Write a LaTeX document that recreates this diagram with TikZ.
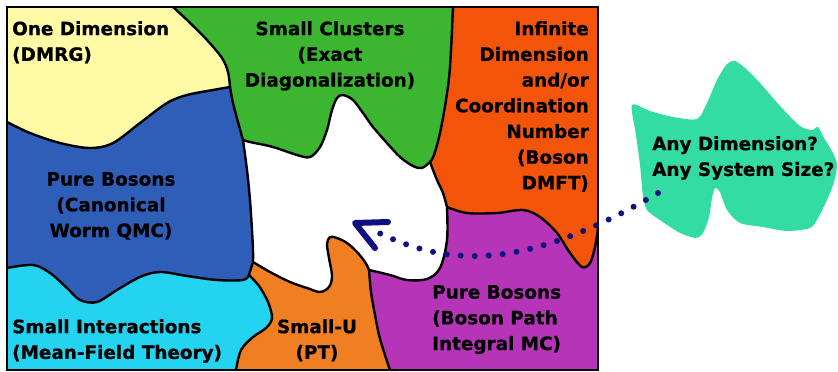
\documentclass[tikz,border=0pt]{standalone}
\usepackage{fontspec}
\setmainfont{DejaVu Sans}
\newfontfamily\lblfont{DejaVu Sans}[BoldFeatures={FakeBold=0.7}]
\definecolor{cyel}{HTML}{FFFAA5}
\definecolor{cgrn}{HTML}{3CB531}
\definecolor{cred}{HTML}{F2550A}
\definecolor{cblu}{HTML}{2E5EB7}
\definecolor{ccyn}{HTML}{23D3EF}
\definecolor{corg}{HTML}{F07F24}
\definecolor{cpur}{HTML}{B534B8}
\definecolor{ccld}{HTML}{33DCA3}
\definecolor{cnavy}{HTML}{101080}
\begin{document}
\begin{tikzpicture}[x=1pt,y=-1pt,
  sm/.style={smooth,tension=0.55},
  bnd/.style={line width=2.4pt,line join=round,line cap=round},
  lbl/.style={inner sep=0pt,font=\lblfont\fontsize{18.4}{25.7}\selectfont\bfseries},
  dots/.style={cnavy,line width=6pt,line cap=round,dash pattern=on 0pt off 14pt},
  arrowhd/.style={cnavy,line width=6pt,line cap=round,line join=round}]
\useasboundingbox (0,0) rectangle (838,372);
\fill[white] (0,0) rectangle (838,372);
% cloud
\fill[ccld] plot[smooth cycle,tension=0.45] coordinates {(632,105) (650,111) (673,117) (697,119) (707,103) (717,80) (727,64) (735,61) (745,68) (760,83) (780,106) (800,126) (812,130) (818,127) (824,138) (833,153) (837,165) (834,182) (827,200) (818,218) (810,228) (787,231) (763,227) (740,223) (727,210) (720,192) (715,188) (712,198) (709,217) (703,233) (696,238) (680,233) (660,220) (647,210) (643,196) (640,165) (636,135)};
% yellow
\fill[cyel] (7,7) -- plot[sm] coordinates {(173,7) (187,20) (207,40) (222,58) (228,72) (230,87)} -- plot[sm] coordinates {(230,87) (213,90) (187,95) (167,103) (140,123) (113,143) (90,148) (60,143) (30,133) (7,122)} -- cycle;
% green
\fill[cgrn] plot[sm] coordinates {(173,7) (187,20) (207,40) (222,58) (228,72) (230,87)} -- plot[sm] coordinates {(230,87) (233,103) (238,122) (243,140)} -- plot[sm] coordinates {(243,140) (250,142) (273,147) (297,155) (310,157) (320,147) (327,130) (332,110) (337,98) (343,95) (353,100) (363,113) (373,127) (387,143) (400,157) (413,166) (422,168) (430,162)} -- plot[sm] coordinates {(430,162) (434,155) (440,133) (446,100) (450,67) (453,7)} -- cycle;
% blue
\fill[cblu] plot[sm] coordinates {(7,122) (30,133) (60,143) (90,148) (113,143) (140,123) (167,103) (187,95) (213,90) (230,87)} -- plot[sm] coordinates {(230,87) (233,103) (238,122) (243,140)} -- plot[sm] coordinates {(243,140) (247,170) (250,200) (252,230) (253,250) (253,262)} -- (249,275) -- plot[sm] coordinates {(249,275) (243,280) (217,280) (187,276) (160,272) (140,277) (117,290) (97,302) (80,300) (67,288) (50,273) (33,265) (7,268)} -- cycle;
% cyan
\fill[ccyn] plot[sm] coordinates {(7,268) (33,265) (50,273) (67,288) (80,300) (97,302) (117,290) (140,277) (160,272) (187,276) (217,280) (243,280) (249,275)} -- plot[sm] coordinates {(249,275) (259,286) (268,302) (272,318) (266,328) (253,337) (241,350) (236,370)} -- (7,370) -- cycle;
% orange small-U
\fill[corg] (249,275) -- plot[sm] coordinates {(253,262) (270,272) (290,282) (307,288) (320,292) (329,287) (332,276) (329,258) (327,244) (330,237) (337,238) (347,243) (357,252) (365,262) (369,270)} -- plot[sm] coordinates {(369,270) (371,292) (375,315) (379,335) (384,352) (390,370)} -- plot[sm] coordinates {(236,370) (241,350) (253,337) (266,328) (272,318) (268,302) (259,286) (249,275)} -- cycle;
% purple
\fill[cpur] plot[sm] coordinates {(447,207) (467,213) (497,213) (523,210) (540,217) (557,233) (570,253) (582,267) (590,263) (595,247) (598,228)} -- (598,370) -- plot[sm] coordinates {(390,370) (384,352) (379,335) (375,315) (371,292) (369,270)} -- plot[sm] coordinates {(369,270) (390,275) (407,280) (427,279) (440,268) (447,240) (447,207)} -- cycle;
% orange-red
\fill[cred] (453,7) -- (598,7) -- plot[sm] coordinates {(598,228) (595,247) (590,263) (582,267) (570,253) (557,233) (540,217) (523,210) (497,213) (467,213) (447,207)} -- plot[sm] coordinates {(447,207) (443,193) (437,180) (430,162)} -- plot[sm] coordinates {(430,162) (434,155) (440,133) (446,100) (450,67) (453,7)} -- cycle;
% boundaries
\draw[bnd] plot[sm] coordinates {(173,7) (187,20) (207,40) (222,58) (228,72) (230,87)};
\draw[bnd] plot[sm] coordinates {(230,87) (233,103) (238,122) (243,140)};
\draw[bnd] plot[sm] coordinates {(230,87) (213,90) (187,95) (167,103) (140,123) (113,143) (90,148) (60,143) (30,133) (7,122)};
\draw[bnd] plot[sm] coordinates {(243,140) (250,142) (273,147) (297,155) (310,157) (320,147) (327,130) (332,110) (337,98) (343,95) (353,100) (363,113) (373,127) (387,143) (400,157) (413,166) (422,168) (430,162)};
\draw[bnd] plot[sm] coordinates {(430,162) (434,155) (440,133) (446,100) (450,67) (453,7)};
\draw[bnd] plot[sm] coordinates {(430,162) (437,180) (443,193) (447,207)};
\draw[bnd] plot[sm] coordinates {(447,207) (467,213) (497,213) (523,210) (540,217) (557,233) (570,253) (582,267) (590,263) (595,247) (598,228)};
\draw[bnd] plot[sm] coordinates {(447,207) (447,240) (440,268) (427,279) (407,280) (390,275) (369,270)};
\draw[bnd] plot[sm] coordinates {(253,262) (270,272) (290,282) (307,288) (320,292) (329,287) (332,276) (329,258) (327,244) (330,237) (337,238) (347,243) (357,252) (365,262) (369,270)};
\draw[bnd] plot[sm] coordinates {(369,270) (371,292) (375,315) (379,335) (384,352) (390,370)};
\draw[bnd] plot[sm] coordinates {(243,140) (247,170) (250,200) (252,230) (253,250) (253,262)};
\draw[bnd] (253,262) -- (249,275);
\draw[bnd] plot[sm] coordinates {(249,275) (243,280) (217,280) (187,276) (160,272) (140,277) (117,290) (97,302) (80,300) (67,288) (50,273) (33,265) (7,268)};
\draw[bnd] plot[sm] coordinates {(249,275) (259,286) (268,302) (272,318) (266,328) (253,337) (241,350) (236,370)};
\draw[line width=2.4pt] (7,7) rectangle (598,370);
% labels
\node[lbl,anchor=north west,align=left] (oned) at (12,21) {One Dimension\\(DMRG)};
\node[lbl,anchor=north,align=center] (clus) at (330,21) {Small Clusters\\(Exact\\Diagonalization)};
\node[lbl,anchor=north east,align=right] (infd) at (589,21) {Infinite\\Dimension\\and/or\\Coordination\\Number\\(Boson\\DMFT)};
\node[lbl,anchor=north,align=center] (worm) at (111,172) {Pure Bosons\\(Canonical\\Worm QMC)};
\node[lbl,anchor=north west,align=left] (mft) at (12,319) {Small Interactions\\(Mean-Field Theory)};
\node[lbl,anchor=north,align=center] (pt) at (317,319) {Small-U\\(PT)};
\node[lbl,anchor=north west,align=left] (pimc) at (432,285) {Pure Bosons\\(Boson Path\\Integral MC)};
\node[lbl,anchor=north west,align=left] (any) at (652,136) {Any Dimension?\\Any System Size?};
% dotted arrow
\coordinate (src) at (658,193);
\coordinate (dst) at (373,230);
\coordinate (tip) at (355,223);
\draw[dots] (src) .. controls (520,274) and (444.5,266) .. (dst);
\draw[arrowhd] (388,222) -- (tip) -- (375,248);
\end{tikzpicture}
\end{document}
